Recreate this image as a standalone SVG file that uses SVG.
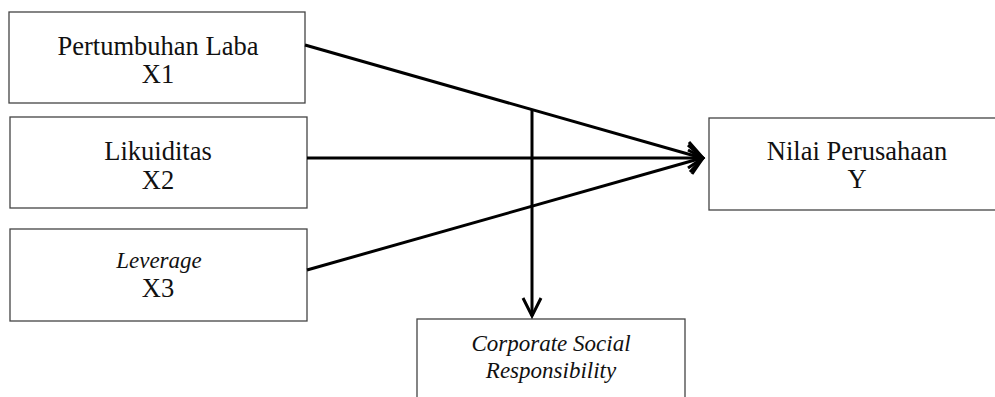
<svg xmlns="http://www.w3.org/2000/svg" width="995" height="397" viewBox="0 0 995 397">
<style>
.box{fill:#fff;stroke:#444;stroke-width:1.3}
.t{font-family:"Liberation Serif","Times New Roman",serif;font-size:26.5px;fill:#111;text-anchor:middle}
.i{font-style:italic;font-size:23px}
.c{fill:none;stroke:#000;stroke-width:3}
.h{fill:none;stroke:#000;stroke-width:3;stroke-linecap:butt;stroke-linejoin:miter}
</style>
<rect width="995" height="397" fill="#fff"/>
<g id="x1"><rect class="box" x="9" y="12" width="296" height="91"/><text class="t" x="158" y="55">Pertumbuhan Laba</text><text class="t" x="158" y="83">X1</text></g>
<g id="x2"><rect class="box" x="10" y="117" width="297" height="91"/><text class="t" x="158" y="160">Likuiditas</text><text class="t" x="158" y="189">X2</text></g>
<g id="x3"><rect class="box" x="10" y="229" width="297" height="92"/><text class="t i" x="159" y="268">Leverage</text><text class="t" x="158" y="297">X3</text></g>
<g id="y"><rect class="box" x="709" y="118" width="297" height="92"/><text class="t" x="857" y="160">Nilai Perusahaan</text><text class="t" x="857" y="188">Y</text></g>
<g id="csr"><rect class="box" x="417" y="319" width="268" height="90"/><text class="t i" x="551" y="351">Corporate Social</text><text class="t i" x="551" y="378">Responsibility</text></g>
<g id="connectors">
<line class="c" x1="305" y1="45" x2="702" y2="158"/>
<line class="c" x1="307" y1="158" x2="702" y2="158"/>
<line class="c" x1="307" y1="270" x2="702" y2="158"/>
<line class="c" x1="532" y1="109" x2="532" y2="316"/>
<polyline class="h" points="688,145 703,158 690,172"/>
<polyline class="h" points="689,142 703,158 688,168"/>
<polyline class="h" points="688,150 703,158 692,174"/>
<polyline class="h" points="523,298 532,316 541,298"/>
</g>
</svg>
